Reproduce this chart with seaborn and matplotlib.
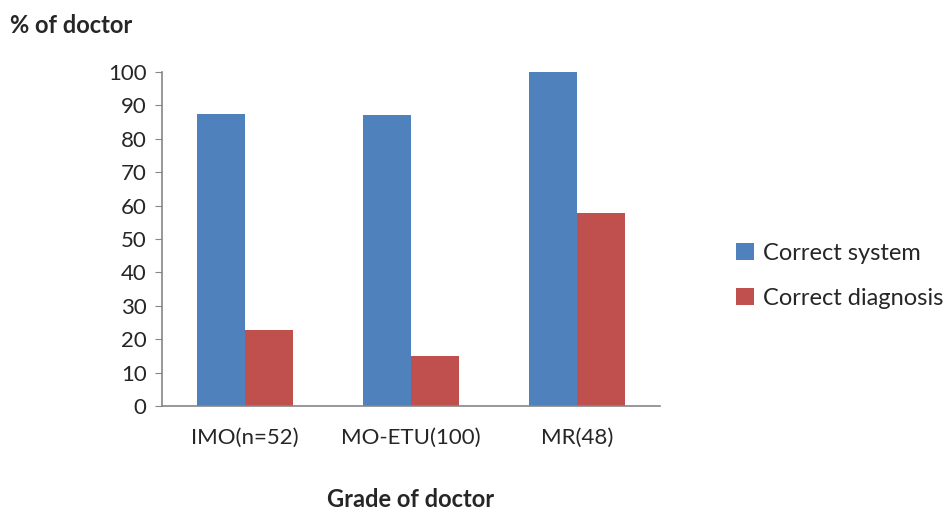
import pandas as pd
import matplotlib.pyplot as plt
import seaborn as sns

# Data
grades = ['IMO(n=52)', 'MO-ETU(100)', 'MR(48)']
correct_system = [87.4, 87.1, 100]
correct_diagnosis = [22.7, 14.9, 57.7]
series = ['Correct system', 'Correct diagnosis']
colors = ['#4F81BD', '#C0504D']

df = pd.DataFrame({
    'grade': grades * 2,
    'pct': correct_system + correct_diagnosis,
    'series': [series[0]] * 3 + [series[1]] * 3,
})

sns.set_style('white')
plt.rcParams['font.family'] = ['Lato', 'DejaVu Sans']

fig = plt.figure(figsize=(9.47, 5.11), dpi=100)
ax = fig.add_axes([0.171, 0.2055, 0.526, 0.6535])

sns.barplot(data=df, x='grade', y='pct', hue='series', palette=colors,
            width=0.58, saturation=1, linewidth=0, ax=ax)

ax.set_ylim(0, 100)
ax.set_yticks(range(0, 101, 10))
ax.set_xlim(-0.5, 2.5)
ax.tick_params(axis='y', labelsize=16, length=5, color='#868686', pad=6, left=True)
ax.tick_params(axis='x', labelsize=16, length=0, pad=16)
for side in ['top', 'right']:
    ax.spines[side].set_visible(False)
for side in ['left', 'bottom']:
    ax.spines[side].set_color('#868686')
    ax.spines[side].set_linewidth(1.2)

ax.set_xlabel('')
ax.set_ylabel('')
fig.text(0.011, 0.951, '% of doctor', fontsize=17, fontweight='bold', va='center')
fig.text(0.434, 0.022, 'Grade of doctor', fontsize=17, fontweight='bold',
         ha='center', va='center')

ax.legend(loc='center left', bbox_to_anchor=(1.11, 0.39), frameon=False,
          fontsize=17, handlelength=0.75, handleheight=0.75, labelspacing=1.0,
          handletextpad=0.4)

fig.savefig('out.png', dpi=100)
